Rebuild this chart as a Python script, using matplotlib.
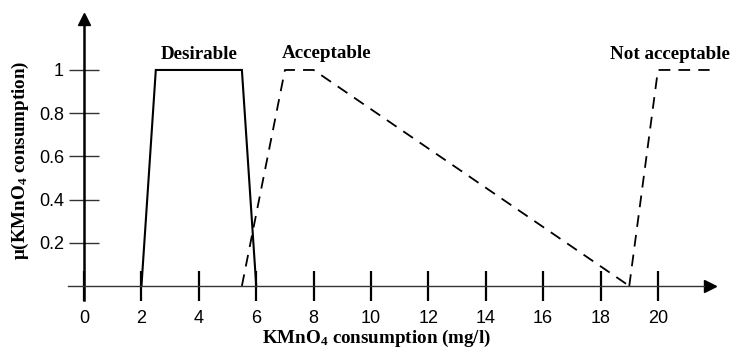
import matplotlib
matplotlib.use("Agg")
import matplotlib.pyplot as plt

plt.rcParams['mathtext.fontset'] = 'custom'
plt.rcParams['mathtext.rm'] = 'Liberation Serif:bold'
plt.rcParams['mathtext.bf'] = 'Liberation Serif:bold'
plt.rcParams['mathtext.it'] = 'Liberation Serif:bold'

# membership functions (x in mg/l, y = membership degree)
desirable_x = [2, 2.5, 5.5, 6]
desirable_y = [0, 1, 1, 0]
acceptable_x = [5.5, 7, 8, 19]
acceptable_y = [0, 1, 1, 0]
notacc_x = [19, 20, 21.8]
notacc_y = [0, 1, 1]

xticks = [0, 2, 4, 6, 8, 10, 12, 14, 16, 18, 20]
yticks = [0.2, 0.4, 0.6, 0.8, 1]
ytick_labels = ['0.2', '0.4', '0.6', '0.8', '1']

fig = plt.figure(figsize=(7.34, 3.49), dpi=100)
ax = fig.add_axes([0, 0, 1, 1])
ax.set_xlim(-2.93, 22.65)
ax.set_ylim(-0.292, 1.324)

ax.plot(desirable_x, desirable_y, color='k', lw=1.5, solid_joinstyle='miter')
ax.plot(acceptable_x, acceptable_y, color='k', lw=1.3, linestyle=(0, (6.5, 4.5)))
ax.plot(notacc_x, notacc_y, color='k', lw=1.3, linestyle=(0, (6.5, 4.5)))

# axes through the origin with arrows
for s in ['top', 'right']:
    ax.spines[s].set_visible(False)
ax.spines['left'].set_position(('data', 0))
ax.spines['bottom'].set_position(('data', 0))
ax.spines['left'].set_bounds(-0.065, 1.22)
ax.spines['bottom'].set_bounds(-0.56, 21.6)
ax.spines['left'].set_linewidth(1.8)
ax.spines['bottom'].set_linewidth(1.0)
ax.spines['bottom'].set_color('#333333')
ax.plot([21.8], [0], marker='>', ms=9, color='k', clip_on=False)
ax.plot([0], [1.236], marker='^', ms=9, color='k', clip_on=False)

ax.set_xticks(xticks)
ax.set_yticks(yticks)
ax.set_yticklabels(ytick_labels)
ax.tick_params(axis='x', direction='inout', length=21, width=1.6, color='k',
               pad=7, labelsize=13)
ax.tick_params(axis='y', direction='inout', length=21, width=1.0, color='#333333',
               pad=4, labelsize=13)
for lab in ax.get_xticklabels() + ax.get_yticklabels():
    lab.set_fontfamily('Liberation Sans')

font_lbl = dict(family='Liberation Serif', weight='bold', size=13.7)
ax.text(4.0, 1.051, 'Desirable', ha='center', va='baseline', **font_lbl)
ax.text(8.47, 1.056, 'Acceptable', ha='center', va='baseline', **font_lbl)
ax.text(20.4, 1.051, 'Not acceptable', ha='center', va='baseline', **font_lbl)

ax.set_xlabel('KMnO$_4$ consumption (mg/l)', va='center', **font_lbl)
ax.xaxis.set_label_coords(10.2, -0.243, transform=ax.transData)
ax.set_ylabel('μ(KMnO$_4$ consumption)', va='center', **font_lbl)
ax.yaxis.set_label_coords(-2.23, 0.583, transform=ax.transData)

fig.savefig('out.png', dpi=100)
